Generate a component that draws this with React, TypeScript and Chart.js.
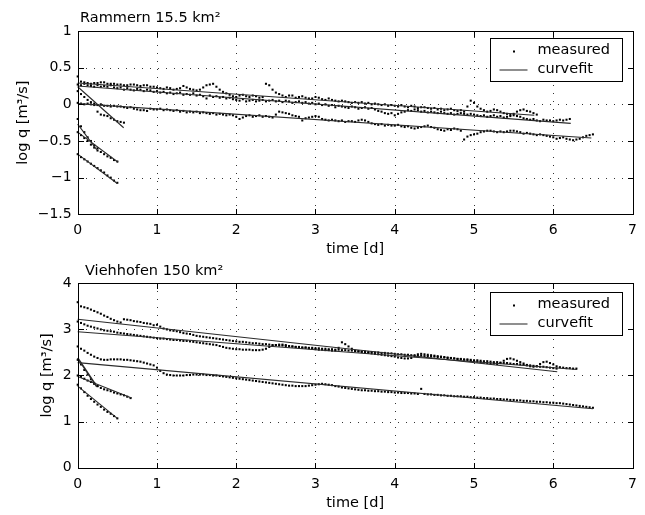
import { useEffect, useRef } from "react";
import { Chart, registerables } from "chart.js";

Chart.register(...registerables);

const FONT = "'DejaVu Sans', sans-serif";
// sampling interval of the measured series: one value per hour, in days
const DT = 1 / 24;

// ---------------- Rammern 15.5 km² (log q, hourly from t = 0) ----------------
const rammernA = [
  0.38, 0.31, 0.3, 0.29, 0.28, 0.29, 0.29, 0.3, 0.3, 0.28, 0.28, 0.28,
  0.27, 0.27, 0.26, 0.26, 0.27, 0.27, 0.26, 0.25, 0.26, 0.26, 0.24, 0.24,
  0.23, 0.22, 0.21, 0.23, 0.22, 0.2, 0.21, 0.22, 0.25, 0.23, 0.21, 0.2,
  0.19, 0.2, 0.23, 0.26, 0.27, 0.28, 0.24, 0.2, 0.17, 0.15, 0.13, 0.11,
  0.1, 0.12, 0.13, 0.11, 0.1, 0.12, 0.11, 0.09, 0.1, 0.28, 0.26, 0.2,
  0.16, 0.14, 0.12, 0.1, 0.12, 0.12, 0.09, 0.1, 0.11, 0.09, 0.08, 0.08,
  0.1, 0.09, 0.07, 0.06, 0.08, 0.06, 0.05, 0.04, 0.05, 0.04, 0.03, 0.02,
  0.03, 0.02, 0.03, 0.01, 0.02, 0.0, 0.01, 0.0, -0.01, 0.0, -0.02, -0.01,
  -0.02, -0.03, -0.01, -0.03, -0.04, -0.02, -0.03, -0.05, -0.04, -0.04, -0.05, -0.06,
  -0.05, -0.07, -0.06, -0.08, -0.07, -0.06, -0.08, -0.09, -0.08, -0.1, -0.03, 0.05,
  0.02, -0.03, -0.06, -0.08, -0.1, -0.09, -0.07, -0.08, -0.1, -0.12, -0.13, -0.14,
  -0.13, -0.1, -0.08, -0.07, -0.09, -0.1, -0.12, -0.14,
];
const rammernB = [
  0.27, 0.26, 0.28, 0.26, 0.25, 0.24, 0.26, 0.24, 0.25, 0.24, 0.26, 0.23,
  0.22, 0.23, 0.2, 0.22, 0.2, 0.19, 0.21, 0.2, 0.18, 0.2, 0.19, 0.17,
  0.18, 0.16, 0.17, 0.15, 0.16, 0.14, 0.15, 0.16, 0.13, 0.14, 0.13, 0.15,
  0.12, 0.13, 0.11, 0.08, 0.12, 0.1, 0.11, 0.09, 0.1, 0.08, 0.09, 0.07,
  0.06, 0.05, 0.07, 0.04, 0.05, 0.06, 0.04, 0.05, 0.06, 0.04, 0.05, 0.06,
  0.04, 0.05, 0.03, 0.05, 0.04, 0.02, 0.03, 0.04, 0.02, 0.03, 0.01, 0.02,
  0.0, 0.01, -0.01, 0.0, -0.02, -0.01, -0.04, -0.02, -0.03, -0.04, -0.05, -0.03,
  -0.04, -0.06, -0.05, -0.04, -0.06, -0.05, -0.07, -0.09, -0.1, -0.12, -0.13, -0.12,
  -0.15, -0.13, -0.11, -0.1, -0.08, -0.09, -0.07, -0.08, -0.1, -0.09, -0.11, -0.1,
  -0.11, -0.12, -0.1, -0.12, -0.13, -0.12, -0.14, -0.13, -0.12, -0.13, -0.14, -0.13,
  -0.14, -0.15, -0.16, -0.15, -0.17, -0.16, -0.15, -0.17, -0.16, -0.18, -0.17, -0.16,
  -0.15, -0.16, -0.17, -0.19, -0.2, -0.21, -0.2, -0.22, -0.23, -0.21, -0.22, -0.22,
  -0.23, -0.22, -0.21, -0.22, -0.21, -0.2,
];
const rammernC = [
  0.02, 0.01, 0.0, 0.01, 0.0, -0.01, -0.01, 0.0, -0.02, -0.02, -0.03, -0.02,
  -0.03, -0.03, -0.04, -0.05, -0.04, -0.06, -0.07, -0.08, -0.08, -0.09, -0.06, -0.07,
  -0.07, -0.06, -0.08, -0.07, -0.08, -0.09, -0.08, -0.1, -0.09, -0.11, -0.1, -0.11,
  -0.1, -0.12, -0.11, -0.12, -0.13, -0.12, -0.14, -0.13, -0.14, -0.15, -0.14, -0.15,
  -0.17, -0.2, -0.18, -0.16, -0.15, -0.17, -0.16, -0.15, -0.17, -0.16, -0.17, -0.18,
  -0.14, -0.1, -0.11, -0.12, -0.13, -0.15, -0.16, -0.17, -0.22, -0.19, -0.18, -0.17,
  -0.16, -0.17, -0.2, -0.21, -0.22, -0.21, -0.22, -0.23, -0.22, -0.24, -0.23, -0.23,
  -0.24, -0.22, -0.21, -0.22, -0.24, -0.26, -0.27, -0.28, -0.27, -0.29, -0.28, -0.29,
  -0.29, -0.28, -0.3, -0.31, -0.3, -0.32, -0.33, -0.32, -0.31, -0.3, -0.29, -0.31,
  -0.32, -0.34, -0.35, -0.36, -0.34, -0.35, -0.33, -0.34, -0.36, -0.48, -0.44, -0.42,
  -0.41, -0.4, -0.38, -0.37, -0.36, -0.36, -0.37, -0.38, -0.37, -0.38, -0.37, -0.36,
  -0.36, -0.37, -0.38, -0.4, -0.39, -0.4, -0.41, -0.42, -0.41, -0.42, -0.43, -0.44,
  -0.45, -0.47, -0.46, -0.45, -0.47, -0.48, -0.49, -0.48, -0.47, -0.45, -0.43, -0.42,
  -0.41,
];
const rammernD = [0.18, 0.14, 0.1, 0.06, 0.03, 0.01, -0.1, -0.14, -0.15, -0.16, -0.19, -0.21, -0.23, -0.24, -0.25];
const rammernE = [-0.2, -0.3, -0.38, -0.45, -0.5, -0.56, -0.6, -0.65, -0.68, -0.71, -0.73, -0.76, -0.78];
const rammernE2 = [-0.38, -0.42, -0.46, -0.5, -0.55, -0.59, -0.63];
const rammernF = [-0.68, -0.72, -0.75, -0.78, -0.81, -0.84, -0.87, -0.9, -0.93, -0.97, -1.0, -1.04, -1.07];

// fitted recession lines: [time d, log q] at start and end
const rammernFit1 = [[0, 0.29], [5.76, -0.15]];
const rammernFit2 = [[0, 0.25], [6.22, -0.26]];
const rammernFit3 = [[0, 0.01], [6.48, -0.46]];
const rammernFit4 = [[0, 0.24], [0.58, -0.32]];
const rammernFit5 = [[0, -0.27], [0.24, -0.62]];
const rammernFit6 = [[0, -0.38], [0.51, -0.79]];
const rammernFit7 = [[0, -0.68], [0.5, -1.08]];

// ---------------- Viehhofen 150 km² ----------------
const viehV1 = [
  3.59, 3.5, 3.48, 3.46, 3.43, 3.4, 3.37, 3.34, 3.3, 3.27, 3.23, 3.2,
  3.17, 3.15, 3.22, 3.21, 3.2, 3.18, 3.17, 3.16, 3.14, 3.13, 3.12, 3.09,
  3.1, 3.06, 3.02, 3.0, 2.98, 2.97, 2.96, 2.94, 2.92, 2.91, 2.9, 2.88,
  2.86, 2.85, 2.84, 2.83, 2.82, 2.81, 2.8, 2.79, 2.78, 2.77, 2.76, 2.75,
  2.74, 2.73, 2.73, 2.72, 2.71, 2.7, 2.7, 2.69, 2.68, 2.68, 2.67, 2.66,
  2.66, 2.65, 2.65, 2.64, 2.63, 2.63, 2.62, 2.62, 2.61, 2.61, 2.6, 2.6,
  2.59, 2.59, 2.58, 2.58, 2.57, 2.57, 2.56, 2.56, 2.55, 2.55, 2.54, 2.54,
  2.53, 2.53, 2.52, 2.52, 2.51, 2.51, 2.5, 2.5, 2.49, 2.49, 2.48, 2.48,
  2.47, 2.46, 2.46, 2.45, 2.45, 2.44, 2.44, 2.43, 2.43, 2.42, 2.42, 2.41,
  2.41, 2.4, 2.4, 2.39, 2.38, 2.38, 2.37, 2.36, 2.36, 2.35, 2.35, 2.34,
  2.33, 2.33, 2.32, 2.31, 2.31, 2.3, 2.29, 2.29, 2.28, 2.27, 2.27, 2.26,
  2.25, 2.25, 2.24, 2.23, 2.22, 2.22, 2.21, 2.2, 2.19, 2.19, 2.18, 2.17,
  2.16, 2.15,
];
const viehV2 = [
  3.17, 3.14, 3.11, 3.08, 3.06, 3.04, 3.02, 3.0, 2.98, 2.97, 2.96, 2.95,
  2.93, 2.92, 2.91, 2.9, 2.89, 2.88, 2.87, 2.86, 2.85, 2.84, 2.83, 2.82,
  2.81, 2.8, 2.8, 2.79, 2.78, 2.77, 2.77, 2.76, 2.75, 2.75, 2.74, 2.73,
  2.72, 2.71, 2.7, 2.69, 2.68, 2.67, 2.66, 2.64, 2.62, 2.6, 2.59, 2.58,
  2.57, 2.57, 2.56, 2.56, 2.56, 2.55, 2.55, 2.55, 2.56, 2.58, 2.62, 2.65,
  2.66, 2.67, 2.67, 2.66, 2.64, 2.63, 2.62, 2.61, 2.6, 2.6, 2.59, 2.58,
  2.57, 2.56, 2.56, 2.55, 2.55, 2.54, 2.54, 2.6, 2.72, 2.68, 2.63, 2.58,
  2.54, 2.52, 2.51, 2.5, 2.49, 2.48, 2.47, 2.46, 2.45, 2.44, 2.43, 2.42,
  2.41, 2.39, 2.38, 2.37, 2.37, 2.38, 2.42, 2.46, 2.47, 2.46, 2.45, 2.44,
  2.43, 2.42, 2.41, 2.4, 2.39, 2.38, 2.37, 2.36, 2.35, 2.34, 2.33, 2.32,
  2.31, 2.3, 2.29, 2.28, 2.27, 2.26, 2.26, 2.25, 2.27, 2.32, 2.36, 2.37,
  2.35, 2.32, 2.29, 2.26, 2.23, 2.2, 2.19, 2.2, 2.25, 2.29, 2.3, 2.27,
  2.24, 2.2, 2.18, 2.17, 2.16, 2.16, 2.15, 2.15,
];
const viehV3 = [
  2.63, 2.58, 2.54, 2.49, 2.45, 2.41, 2.38, 2.35, 2.34, 2.34, 2.35, 2.35,
  2.35, 2.35, 2.34, 2.34, 2.33, 2.32, 2.31, 2.3, 2.28, 2.26, 2.24, 2.22,
  2.17, 2.1, 2.05, 2.02, 2.01, 2.0, 2.0, 2.0, 2.0, 2.01, 2.01, 2.02,
  2.02, 2.02, 2.02, 2.01, 2.01, 2.0, 2.0, 1.99, 1.98, 1.97, 1.96, 1.95,
  1.94, 1.93, 1.92, 1.91, 1.9, 1.89, 1.88, 1.87, 1.86, 1.85, 1.84, 1.83,
  1.82, 1.81, 1.8, 1.79, 1.78, 1.78, 1.77, 1.77, 1.77, 1.77, 1.78, 1.79,
  1.8, 1.81, 1.82, 1.81, 1.8, 1.79, 1.77, 1.76, 1.74, 1.73, 1.72, 1.71,
  1.7, 1.69, 1.68, 1.68, 1.67, 1.67, 1.66, 1.66, 1.65, 1.65, 1.64, 1.64,
  1.63, 1.63, 1.62, 1.62, 1.62, 1.61, 1.61, 1.6, 1.71, 1.6, 1.59, 1.59,
  1.58, 1.58, 1.57, 1.57, 1.56, 1.56, 1.55, 1.55, 1.55, 1.54, 1.54, 1.53,
  1.53, 1.52, 1.52, 1.51, 1.51, 1.5, 1.5, 1.49, 1.49, 1.48, 1.48, 1.47,
  1.47, 1.46, 1.46, 1.45, 1.45, 1.44, 1.44, 1.43, 1.43, 1.42, 1.42, 1.41,
  1.41, 1.4, 1.4, 1.39, 1.38, 1.37, 1.36, 1.35, 1.34, 1.33, 1.32, 1.31,
  1.3,
];
const viehS1 = [2.34, 2.24, 2.12, 2.02, 1.92, 1.83, 1.77];
const viehS2 = [2.0, 1.97, 1.93, 1.89, 1.86, 1.82, 1.77, 1.73, 1.7, 1.68, 1.66, 1.63, 1.61, 1.59, 1.57, 1.54, 1.51];
const viehS3 = [1.8, 1.72, 1.64, 1.56, 1.49, 1.43, 1.37, 1.32, 1.26, 1.21, 1.17, 1.12, 1.07];

const viehFit1 = [[0, 3.22], [6.05, 2.08]];
const viehFit2 = [[0, 2.95], [6.3, 2.13]];
const viehFit3 = [[0, 2.28], [6.5, 1.28]];
const viehFit4 = [[0, 2.38], [0.24, 1.76]];
const viehFit5 = [[0, 1.98], [0.68, 1.51]];
const viehFit6 = [[0, 1.77], [0.5, 1.07]];

const xTicks = [0, 1, 2, 3, 4, 5, 6, 7];

const fmt = (v: number) => String(Math.round(v * 10) / 10).replace("-", "\u2212");

const toXY = (vals: number[]) => vals.map((v, i) => ({ x: i * DT, y: v }));
const pairXY = (p: number[][]) => p.map(([x, y]) => ({ x, y }));

interface Panel {
  title: string;
  titleX: number;
  titleY: number;
  height: number;
  top: number;
  bottom: number;
  yMin: number;
  yMax: number;
  yStep: number;
  yTitlePad: number;
  xTitlePad: number;
  legendTop: number;
  measured: number[][];
  fits: number[][][];
  fitWidths: number[];
}

const panels: Panel[] = [
  {
    title: "Rammern 15.5 km\u00b2",
    titleX: 80,
    titleY: 18.3,
    height: 260,
    top: 31,
    bottom: 214.3,
    yMin: -1.5,
    yMax: 1,
    yStep: 0.5,
    yTitlePad: 14.6,
    xTitlePad: 1.8,
    legendTop: 7,
    measured: [rammernA, rammernB, rammernC, rammernD, rammernE, rammernE2, rammernF],
    fits: [rammernFit1, rammernFit2, rammernFit3, rammernFit4, rammernFit5, rammernFit6, rammernFit7],
    fitWidths: [1.1, 1.1, 1.1, 1.1, 1.1, 1.1, 1.1],
  },
  {
    title: "Viehhofen 150 km\u00b2",
    titleX: 85,
    titleY: 11.5,
    height: 255,
    top: 23.3,
    bottom: 207.7,
    yMin: 0,
    yMax: 4,
    yStep: 1,
    yTitlePad: 38.3,
    xTitlePad: 3.3,
    legendTop: 8.4,
    measured: [viehV1, viehV2, viehV3, viehS1, viehS2, viehS3],
    fits: [viehFit1, viehFit2, viehFit3, viehFit4, viehFit5, viehFit6],
    fitWidths: [1.1, 1.1, 1.1, 1.7, 1.1, 1.1],
  },
];

const LEFT = 77.7;
const RIGHT_PAD = 645 - 633.3;

const framePlugin = {
  id: "frame",
  beforeDatasetsDraw(chart: any) {
    const { ctx, chartArea: ca, scales } = chart;
    const x = scales.x;
    const y = scales.y;
    ctx.save();
    ctx.strokeStyle = "#333";
    ctx.lineWidth = 1;
    ctx.setLineDash([1, 7]);
    x.ticks.forEach((t: any) => {
      const px = Math.round(x.getPixelForValue(t.value)) + 0.5;
      if (px <= ca.left + 2 || px >= ca.right - 2) return;
      ctx.beginPath();
      ctx.moveTo(px, Math.round(ca.bottom));
      ctx.lineTo(px, Math.round(ca.top));
      ctx.stroke();
    });
    y.ticks.forEach((t: any) => {
      const py = Math.round(y.getPixelForValue(t.value)) + 0.5;
      if (py <= ca.top + 2 || py >= ca.bottom - 2) return;
      ctx.beginPath();
      ctx.moveTo(Math.round(ca.left), py);
      ctx.lineTo(Math.round(ca.right), py);
      ctx.stroke();
    });
    ctx.restore();
  },
  afterDraw(chart: any, _args: any, opts: any) {
    const { ctx, chartArea: ca, scales } = chart;
    const x = scales.x;
    const y = scales.y;
    const l = Math.round(ca.left) + 0.5;
    const r = Math.round(ca.right) + 0.5;
    const t = Math.round(ca.top) + 0.5;
    const b = Math.round(ca.bottom) + 0.5;
    ctx.save();
    ctx.strokeStyle = "#000";
    ctx.lineWidth = 1;
    ctx.setLineDash([]);
    ctx.strokeRect(l, t, r - l, b - t);
    const TL = 5.5;
    ctx.beginPath();
    x.ticks.forEach((tk: any) => {
      const px = Math.round(x.getPixelForValue(tk.value)) + 0.5;
      ctx.moveTo(px, b);
      ctx.lineTo(px, b - TL);
      ctx.moveTo(px, t);
      ctx.lineTo(px, t + TL);
    });
    y.ticks.forEach((tk: any) => {
      const py = Math.round(y.getPixelForValue(tk.value)) + 0.5;
      ctx.moveTo(l, py);
      ctx.lineTo(l + TL, py);
      ctx.moveTo(r, py);
      ctx.lineTo(r - TL, py);
    });
    ctx.stroke();

    // panel title
    ctx.fillStyle = "#000";
    ctx.font = `14.5px ${FONT}`;
    ctx.textAlign = "left";
    ctx.textBaseline = "middle";
    ctx.fillText(opts.title, opts.titleX, opts.titleY);

    // legend box
    const bw = 132;
    const bh = 43;
    const bx = Math.round(ca.right - 10.6 - bw) + 0.5;
    const by = Math.round(ca.top + opts.legendTop) + 0.5;
    ctx.fillStyle = "#fff";
    ctx.fillRect(bx, by, bw, bh);
    ctx.strokeStyle = "#000";
    ctx.strokeRect(bx, by, bw, bh);
    ctx.fillStyle = "#000";
    ctx.fillRect(bx + 22.5, by + 12, 2, 2);
    ctx.strokeStyle = "#333";
    ctx.lineWidth = 1.1;
    ctx.beginPath();
    ctx.moveTo(bx + 9, by + 31.5);
    ctx.lineTo(bx + 37, by + 31.5);
    ctx.stroke();
    ctx.fillStyle = "#000";
    ctx.fillText(chart.data.datasets[0].label, bx + 47, by + 12);
    ctx.fillText(chart.data.datasets[opts.fitIndex].label, bx + 47, by + 31);
    ctx.restore();
  },
};

function buildConfig(p: Panel): any {
  const measuredSets = p.measured.map((vals, i) => ({
    type: "scatter",
    label: "measured",
    data: toXY(vals),
    showLine: false,
    pointStyle: "rect",
    pointRadius: 1.45,
    pointHoverRadius: 1.45,
    pointBorderWidth: 0,
    backgroundColor: "#000",
    borderColor: "#000",
    order: 1,
    clip: false,
    _k: i,
  }));
  const fitSets = p.fits.map((pts, i) => ({
    type: "line",
    label: "curvefit",
    data: pairXY(pts),
    showLine: true,
    pointRadius: 0,
    borderColor: "#2a2a2a",
    borderWidth: p.fitWidths[i],
    fill: false,
    tension: 0,
    order: 0,
    clip: false,
  }));
  const titleFont = { family: FONT, size: 14.5 };
  const tickFont = { family: FONT, size: 14 };
  return {
    type: "scatter",
    data: { datasets: [...measuredSets, ...fitSets] },
    options: {
      responsive: false,
      animation: false,
      events: [],
      layout: { padding: { left: 0, right: RIGHT_PAD, top: p.top, bottom: 0 } },
      plugins: {
        legend: { display: false },
        tooltip: { enabled: false },
        title: { display: false },
        frame: {
          title: p.title,
          titleX: p.titleX,
          titleY: p.titleY,
          legendTop: p.legendTop,
          fitIndex: measuredSets.length,
        },
      },
      scales: {
        x: {
          type: "linear",
          min: 0,
          max: 7,
          afterBuildTicks: (s: any) => {
            s.ticks = xTicks.map((v) => ({ value: v }));
          },
          ticks: {
            font: tickFont,
            color: "#000",
            padding: 8,
            maxRotation: 0,
            callback: (v: number) => fmt(v),
          },
          grid: { display: false, drawTicks: false },
          border: { display: false },
          title: {
            display: true,
            text: "time [d]",
            font: titleFont,
            color: "#000",
            padding: { top: 0, bottom: p.xTitlePad },
          },
          afterFit: (s: any) => {
            s.height = p.height - p.bottom;
          },
        },
        y: {
          type: "linear",
          min: p.yMin,
          max: p.yMax,
          ticks: {
            stepSize: p.yStep,
            font: tickFont,
            color: "#000",
            padding: 6,
            callback: (v: number) => fmt(v),
          },
          grid: { display: false, drawTicks: false },
          border: { display: false },
          title: {
            display: true,
            text: "log q [m\u00b3/s]",
            font: titleFont,
            color: "#000",
            padding: { top: p.yTitlePad, bottom: 0 },
          },
          afterFit: (s: any) => {
            s.width = LEFT;
          },
        },
      },
    },
    plugins: [framePlugin],
  };
}

export default function App() {
  const topRef = useRef<HTMLCanvasElement>(null);
  const botRef = useRef<HTMLCanvasElement>(null);

  useEffect(() => {
    const c1 = new Chart(topRef.current as HTMLCanvasElement, buildConfig(panels[0]));
    const c2 = new Chart(botRef.current as HTMLCanvasElement, buildConfig(panels[1]));
    return () => {
      c1.destroy();
      c2.destroy();
    };
  }, []);

  return (
    <div style={{ position: "fixed", left: 0, top: 0, width: 645, height: 515, background: "#fff" }}>
      <canvas
        ref={topRef}
        width={645}
        height={panels[0].height}
        style={{ position: "absolute", left: 0, top: 0, width: 645, height: panels[0].height }}
      />
      <canvas
        ref={botRef}
        width={645}
        height={panels[1].height}
        style={{ position: "absolute", left: 0, top: panels[0].height, width: 645, height: panels[1].height }}
      />
    </div>
  );
}
